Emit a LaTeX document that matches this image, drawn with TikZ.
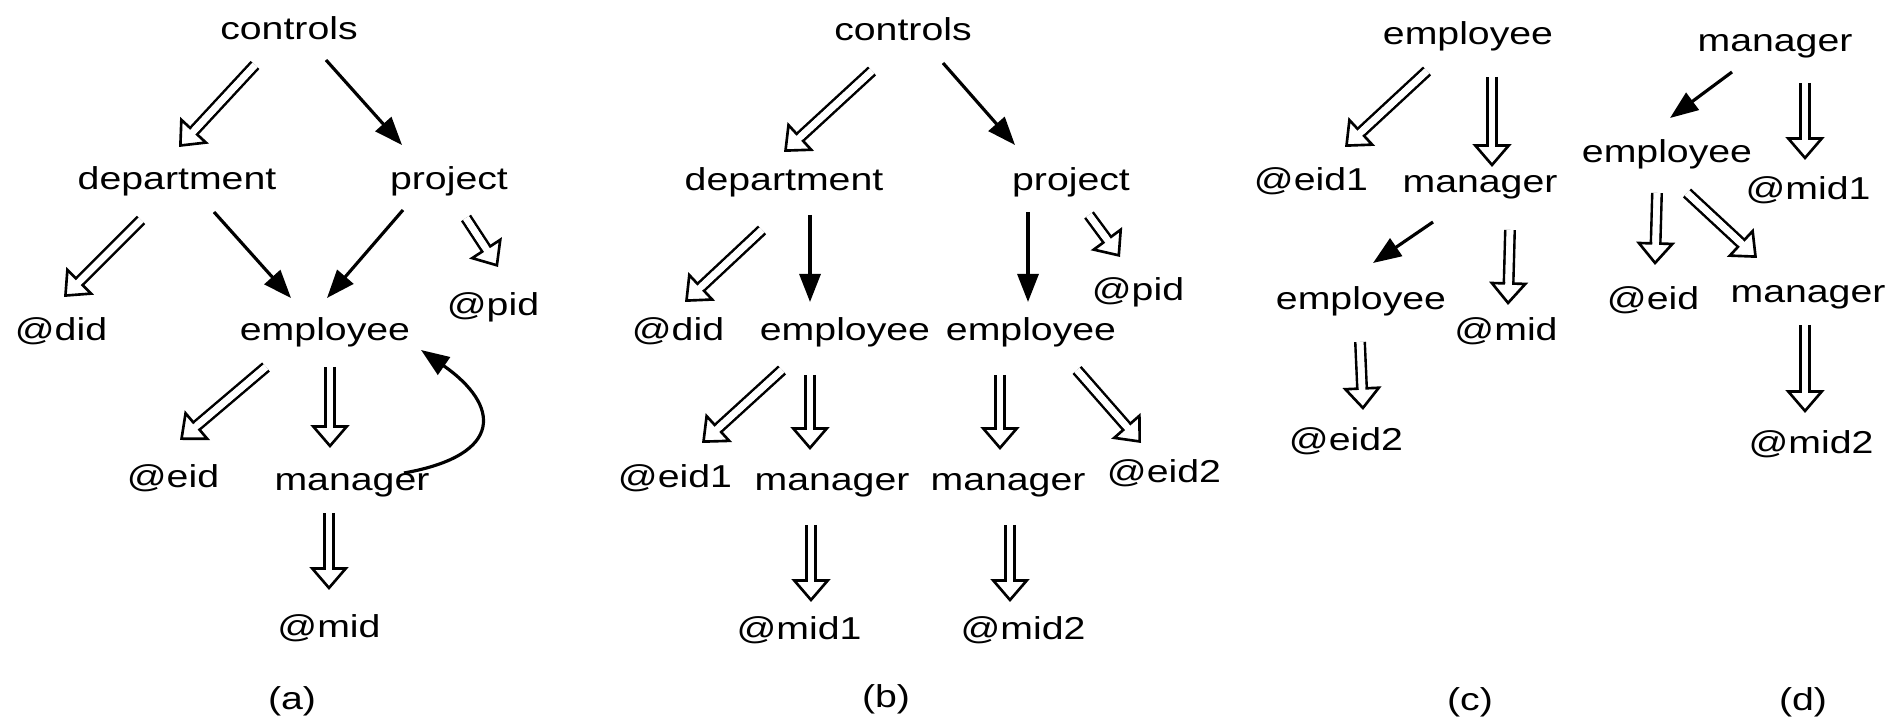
\documentclass[tikz,border=0pt]{standalone}
\usepackage{fontspec}
\setmainfont{Liberation Sans}[FakeStretch=1.24]
\usetikzlibrary{arrows.meta,calc}
\tikzset{
  lbl/.style={font=\fontsize{9}{11}\selectfont,inner sep=0pt,text height=6.4pt,text depth=1.9pt},
  myarrow/.style={line width=0.9pt,-{Triangle[length=8pt,width=6pt]}},
  dblarrow/.style={double,double distance=1.9pt,line width=0.75pt,
    -{Triangle[fill=white,length=6.5pt,width=11pt,line width=0.75pt]},
    postaction={draw=white,-,line width=1.9pt,shorten >=5.4pt}},
}
\begin{document}
\begin{tikzpicture}[x=0.01cm,y=-0.01cm]
  \useasboundingbox (0,0) rectangle (1894,725);
  % (a)
  \node[lbl] (ctlA) at (289,32) {controls};
  \node[lbl] (depA) at (177,182) {department};
  \node[lbl] (prjA) at (449,182) {project};
  \node[lbl] (didA) at (61,333) {@did};
  \node[lbl] (empA) at (325,333) {employee};
  \node[lbl] (pidA) at (493,308) {@pid};
  \node[lbl] (eidA) at (173,480) {@eid};
  \node[lbl] (mgrA) at (352,483) {manager};
  \node[lbl] (midA) at (329,630) {@mid};
  \node[lbl] (capA) at (292,702) {(a)};
  \draw[dblarrow] ($(ctlA)+(-34,33)$) -- ($(depA)+(2,-35)$);
  \draw[myarrow] ($(ctlA)+(37,28)$) -- ($(prjA)+(-47,-37)$);
  \draw[dblarrow] ($(depA)+(-36,38)$) -- ($(didA)+(3,-36)$);
  \draw[myarrow] ($(depA)+(37,30)$) -- ($(empA)+(-34,-35)$);
  \draw[myarrow] ($(prjA)+(-46,28)$) -- ($(empA)+(2,-35)$);
  \draw[dblarrow] ($(prjA)+(17,36)$) -- ($(pidA)+(5,-41)$);
  \draw[dblarrow] ($(empA)+(-59,34)$) -- ($(eidA)+(7,-40)$);
  \draw[dblarrow] ($(empA)+(5,34)$) -- ($(mgrA)+(-22,-35)$);
  \draw[dblarrow] ($(mgrA)+(-23,30)$) -- ($(midA)+(0,-40)$);
  \draw[myarrow] ($(mgrA)+(52,-10)$) .. controls +(101,-18) and +(79,55) .. ($(empA)+(96,17)$);
  % (b)
  \node[lbl] (ctlB) at (903,33) {controls};
  \node[lbl] (depB) at (784,183) {department};
  \node[lbl] (prjB) at (1071,183) {project};
  \node[lbl] (didB) at (678,333) {@did};
  \node[lbl] (empB1) at (845,333) {employee};
  \node[lbl] (empB2) at (1031,333) {employee};
  \node[lbl] (pidB) at (1138,293) {@pid};
  \node[lbl] (eidB1) at (675,480) {@eid1};
  \node[lbl] (mgrB1) at (832,483) {manager};
  \node[lbl] (mgrB2) at (1008,483) {manager};
  \node[lbl] (eidB2) at (1164,475) {@eid2};
  \node[lbl] (midB1) at (799,632) {@mid1};
  \node[lbl] (midB2) at (1023,632) {@mid2};
  \node[lbl] (capB) at (886,700) {(b)};
  \draw[dblarrow] ($(ctlB)+(-31,38)$) -- ($(depB)+(0,-31)$);
  \draw[myarrow] ($(ctlB)+(40,30)$) -- ($(prjB)+(-56,-38)$);
  \draw[dblarrow] ($(depB)+(-22,47)$) -- ($(didB)+(7,-31)$);
  \draw[myarrow] ($(depB)+(26,32)$) -- ($(empB1)+(-35,-31)$);
  \draw[myarrow] ($(prjB)+(-43,29)$) -- ($(empB2)+(-3,-31)$);
  \draw[dblarrow] ($(prjB)+(18,32)$) -- ($(pidB)+(-18,-36)$);
  \draw[dblarrow] ($(empB1)+(-63,37)$) -- ($(eidB1)+(27,-37)$);
  \draw[dblarrow] ($(empB1)+(-35,42)$) -- ($(mgrB1)+(-22,-33)$);
  \draw[dblarrow] ($(empB2)+(-31,42)$) -- ($(mgrB2)+(-8,-33)$);
  \draw[dblarrow] ($(empB2)+(46,37)$) -- ($(eidB2)+(-23,-32)$);
  \draw[dblarrow] ($(mgrB1)+(-21,42)$) -- ($(midB1)+(12,-30)$);
  \draw[dblarrow] ($(mgrB2)+(2,42)$) -- ($(midB2)+(-13,-30)$);
  % (c)
  \node[lbl] (empC) at (1468,37) {employee};
  \node[lbl] (eidC1) at (1311,183) {@eid1};
  \node[lbl] (mgrC) at (1480,185) {manager};
  \node[lbl] (empC2) at (1361,302) {employee};
  \node[lbl] (midC) at (1506,333) {@mid};
  \node[lbl] (eidC2) at (1346,443) {@eid2};
  \node[lbl] (capC) at (1470,703) {(c)};
  \draw[dblarrow] ($(empC)+(-41,34)$) -- ($(eidC1)+(34,-36)$);
  \draw[dblarrow] ($(empC)+(24,40)$) -- ($(mgrC)+(12,-18)$);
  \draw[myarrow] ($(mgrC)+(-47,37)$) -- ($(empC2)+(12,-39)$);
  \draw[dblarrow] ($(mgrC)+(30,45)$) -- ($(midC)+(2,-28)$);
  \draw[dblarrow] ($(empC2)+(-1,40)$) -- ($(eidC2)+(17,-33)$);
  % (d)
  \node[lbl] (mgrD) at (1775,44) {manager};
  \node[lbl] (empD) at (1667,155) {employee};
  \node[lbl] (midD1) at (1808,192) {@mid1};
  \node[lbl] (eidD) at (1653,302) {@eid};
  \node[lbl] (mgrD2) at (1808,295) {manager};
  \node[lbl] (midD2) at (1811,446) {@mid2};
  \node[lbl] (capD) at (1803,703) {(d)};
  \draw[myarrow] ($(mgrD)+(-43,28)$) -- ($(empD)+(3,-37)$);
  \draw[dblarrow] ($(mgrD)+(30,39)$) -- ($(midD1)+(-3,-32)$);
  \draw[dblarrow] ($(empD)+(-10,38)$) -- ($(eidD)+(2,-37)$);
  \draw[dblarrow] ($(empD)+(20,38)$) -- ($(mgrD2)+(-51,-37)$);
  \draw[dblarrow] ($(mgrD2)+(-3,30)$) -- ($(midD2)+(-6,-33)$);
\end{tikzpicture}
\end{document}
